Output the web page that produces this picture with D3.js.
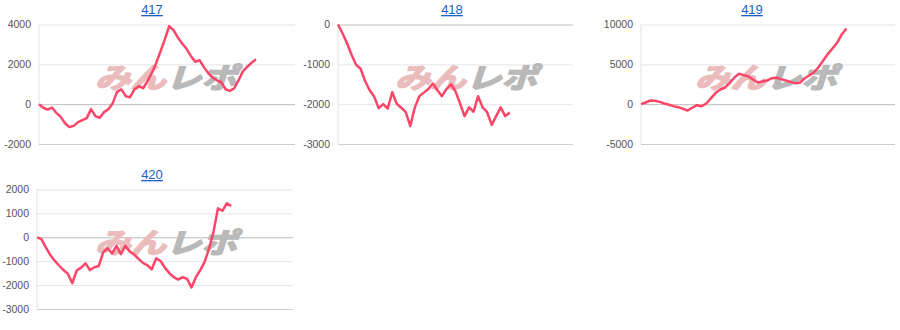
<!DOCTYPE html>
<html>
<head>
<meta charset="utf-8">
<script src="https://cdn.jsdelivr.net/npm/d3@7"></script>
<style>
  body { margin: 0; background: #fff; }
  svg { display: block; font-family: Arial, "Liberation Sans", sans-serif; }
</style>
</head>
<body>
<script>
// chart titles
const titles = ['417', '418', '419', '420'];

// y tick values per chart
const ticks417 = [-2000, 0, 2000, 4000];
const ticks418 = [-3000, -2000, -1000, 0];
const ticks419 = [-5000, 0, 5000, 10000];
const ticks420 = [-3000, -2000, -1000, 0, 1000, 2000];

// running difference per chart
const series417 = [0, -180, -270, -170, -440, -640, -960, -1150, -1090, -900, -800, -700, -250,
  -600, -680, -400, -250, 50, 620, 740, 400, 350, 750, 900, 800, 1150, 1570, 2060, 2650, 3250,
  3920, 3720, 3350, 3050, 2780, 2420, 2130, 2210, 1860, 1560, 1330, 1200, 1100, 750, 670, 800,
  1200, 1650, 1880, 2080, 2260];
const series418 = [0, -220, -470, -760, -1010, -1110, -1420, -1650, -1810, -2100, -2000, -2110,
  -1700, -1990, -2090, -2200, -2550, -2080, -1800, -1710, -1620, -1480, -1650, -1800, -1620, -1500,
  -1680, -1980, -2300, -2080, -2190, -1800, -2080, -2200, -2520, -2300, -2080, -2300, -2210];
const series419 = [0, 210, 460, 430, 290, 80, -80, -250, -380, -590, -800, -420, -130, -250, 80,
  750, 1420, 1840, 2090, 2680, 3350, 3810, 3640, 3470, 3100, 2720, 2850, 2970, 3260, 3310, 3140,
  2970, 2800, 2640, 2680, 3220, 3600, 3970, 4640, 5440, 6280, 6990, 7700, 8750, 9500];
const series420 = [0, -80, -420, -740, -980, -1180, -1370, -1530, -1920, -1390, -1270, -1090,
  -1370, -1250, -1200, -630, -460, -680, -360, -710, -360, -590, -720, -900, -1070, -1170, -1340,
  -880, -990, -1280, -1500, -1670, -1770, -1670, -1740, -2100, -1670, -1370, -1020, -460, 240,
  1210, 1110, 1420, 1310];

const panels = [
  { title: titles[0], data: series417, ticks: ticks417, xMax: 59, ox: 0,   oy: 0,   left: 39, right: 295 },
  { title: titles[1], data: series418, ticks: ticks418, xMax: 52, ox: 300, oy: 0,   left: 38, right: 273 },
  { title: titles[2], data: series419, ticks: ticks419, xMax: 54.4, ox: 600, oy: 0, left: 41, right: 295 },
  { title: titles[3], data: series420, ticks: ticks420, xMax: 58, ox: 0,   oy: 165, left: 37, right: 293 }
];

const plotTop = 24.5, plotBottom = 144;

const svg = d3.select('body')
  .append('svg')
  .attr('width', 900)
  .attr('height', 330);

panels.forEach(p => {
  const g = svg.append('g').attr('transform', `translate(${p.ox},${p.oy})`);

  const x = d3.scaleLinear().domain([0, p.xMax]).range([p.left, p.right]);
  const y = d3.scaleLinear().domain(d3.extent(p.ticks)).range([plotBottom, plotTop]);

  // title
  g.append('text')
    .attr('x', 152)
    .attr('y', 14)
    .attr('text-anchor', 'middle')
    .attr('font-size', 13)
    .attr('fill', '#1a5fc8')
    .style('text-decoration', 'underline')
    .text(p.title);

  // y axis with gridlines
  const yAxis = d3.axisLeft(y)
    .tickValues(p.ticks)
    .tickSize(-(p.right - p.left))
    .tickPadding(8)
    .tickFormat(d => String(d));

  const ax = g.append('g')
    .attr('transform', `translate(${p.left},0)`)
    .call(yAxis);
  ax.select('.domain').remove();
  ax.selectAll('.tick line')
    .attr('stroke', d => d === 0 ? '#bdbdbd' : (d === p.ticks[0] ? '#cfcfcf' : '#e6e6e6'));
  ax.selectAll('.tick text')
    .attr('font-size', 10.5)
    .attr('fill', '#555')
    .attr('font-family', 'Arial, "Liberation Sans", sans-serif');

  // left vertical line
  g.append('line')
    .attr('x1', p.left).attr('x2', p.left)
    .attr('y1', plotTop).attr('y2', plotBottom)
    .attr('stroke', '#e2e2e2');

  // watermark
  const wm = g.append('text')
    .attr('x', 95)
    .attr('y', plotTop + 51)
    .attr('dominant-baseline', 'central')
    .attr('font-family', '"Noto Sans CJK JP", sans-serif')
    .attr('font-weight', 'bold')
    .attr('font-style', 'italic')
    .attr('font-size', 28)
    .attr('stroke-width', 1.6)
    .attr('stroke-linejoin', 'round')
    .attr('textLength', 142)
    .attr('lengthAdjust', 'spacingAndGlyphs');
  wm.append('tspan').attr('fill', '#ebbcbc').attr('stroke', '#ebbcbc').text('みん');
  wm.append('tspan').attr('fill', '#b9b9b9').attr('stroke', '#b9b9b9').text('レポ');

  // line
  const line = d3.line()
    .x((d, i) => x(i))
    .y(d => y(d));

  g.append('path')
    .datum(p.data)
    .attr('fill', 'none')
    .attr('stroke', '#fb4668')
    .attr('stroke-width', 2.5)
    .attr('stroke-linejoin', 'round')
    .attr('d', line);
});
</script>
</body>
</html>
